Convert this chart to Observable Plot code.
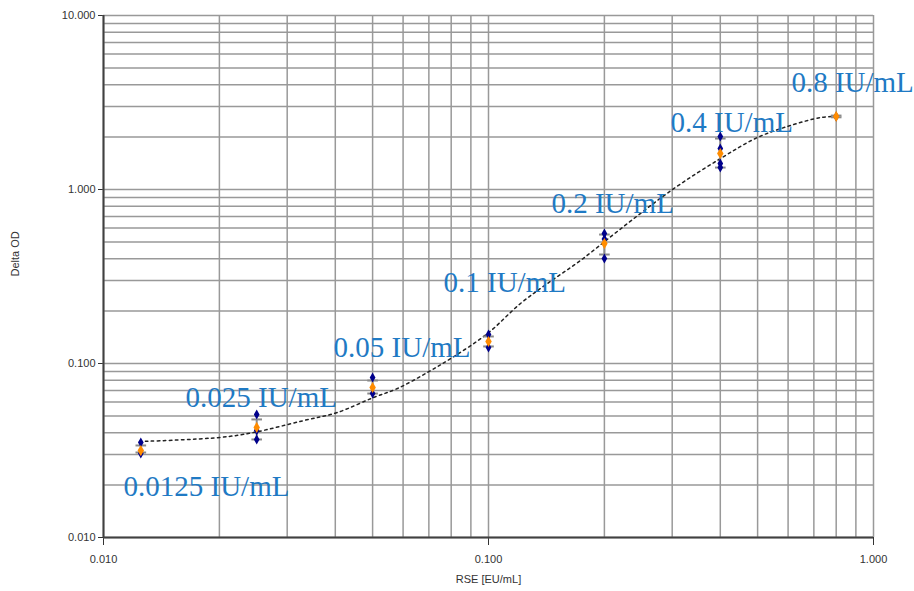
<!DOCTYPE html>
<html>
<head>
<meta charset="utf-8">
<script src="https://cdn.jsdelivr.net/npm/d3@7"></script>
<script src="https://cdn.jsdelivr.net/npm/@observablehq/plot@0.6"></script>
<style>
  html, body { margin: 0; padding: 0; background: #fff; }
  #chart { width: 914px; height: 591px; }
</style>
</head>
<body>
<div id="chart"></div>
<script>
// Concentrations (RSE, EU/mL)
const conc = [0.0125, 0.025, 0.05, 0.1, 0.2, 0.4, 0.8];
// Mean Delta OD (orange)
const meanOD = [0.0316, 0.0429, 0.0728, 0.1338, 0.489, 1.61, 2.63];
// Error bar limits (gray)
const errLow  = [0.0308, 0.0366, 0.0672, 0.1253, 0.423, 1.337, 2.60];
const errHigh = [0.0338, 0.0477, 0.0798, 0.143, 0.551, 1.963, 2.66];
// Replicates (blue)
const repConc = [0.0125, 0.0125, 0.025, 0.025, 0.025, 0.05, 0.05, 0.1, 0.1, 0.2, 0.2, 0.2, 0.4, 0.4, 0.4, 0.4, 0.8];
const repOD   = [0.0352, 0.0304, 0.0509, 0.0412, 0.0366, 0.0831, 0.0672, 0.1468, 0.1236, 0.559, 0.52, 0.401, 2.017, 1.72, 1.41, 1.337, 2.63];
// Fitted curve (dotted)
const fitX = [0.0124, 0.0201, 0.0245, 0.0331, 0.0405, 0.0503, 0.058, 0.0694, 0.0806, 0.0994, 0.1211, 0.1423, 0.1734, 0.2176, 0.3006, 0.4006, 0.4996, 0.6086, 0.7284, 0.787];
const fitY = [0.0356, 0.0376, 0.0401, 0.047, 0.0523, 0.0638, 0.0718, 0.0888, 0.1083, 0.1487, 0.2213, 0.2883, 0.391, 0.581, 1.0, 1.507, 1.99, 2.332, 2.593, 2.63];
// Annotation labels
const labelText = ["0.0125 IU/mL", "0.025 IU/mL", "0.05 IU/mL", "0.1 IU/mL", "0.2 IU/mL", "0.4 IU/mL", "0.8 IU/mL"];
const labelX = [0.01127, 0.01633, 0.0396, 0.0764, 0.1457, 0.297, 0.612];
const labelY = [0.01964, 0.0638, 0.1236, 0.292, 0.831, 2.43, 4.12];
// Axis ticks
const xTicks = [0.01, 0.1, 1];
const yTicks = [0.01, 0.1, 1, 10];
const xTitle = "RSE [EU/mL]";
const yTitle = "Delta OD";

const xGrid = d3.scaleLog().domain([0.01, 1]).ticks();
const yGrid = d3.scaleLog().domain([0.01, 10]).ticks();

const means = conc.map((c, i) => ({x: c, y: meanOD[i], lo: errLow[i], hi: errHigh[i]}));
const reps = repConc.map((c, i) => ({x: c, y: repOD[i]}));
const fit = fitX.map((x, i) => ({x, y: fitY[i]}));
const labels = labelText.map((t, i) => ({t, x: labelX[i], y: labelY[i]}));

const capSymbol = {
  draw(ctx, size) {
    const w = Math.sqrt(size) / 2;
    ctx.moveTo(-w, 0);
    ctx.lineTo(w, 0);
  }
};

const fmt = d3.format(".3f");

const chart = Plot.plot({
  width: 914,
  height: 591,
  marginLeft: 103,
  marginRight: 41,
  marginTop: 15,
  marginBottom: 54,
  style: {fontFamily: "'Liberation Sans', Arial, sans-serif", fontSize: "11px", color: "#333", background: "#fff"},
  x: {type: "log", domain: [0.01, 1], ticks: xTicks, tickFormat: fmt, tickSize: 8, tickPadding: 10, label: null},
  y: {type: "log", domain: [0.01, 10], ticks: yTicks, tickFormat: fmt, tickSize: 5, tickPadding: 3, label: null},
  marks: [
    Plot.ruleX(xGrid, {stroke: "#999", strokeWidth: 1.5}),
    Plot.ruleY(yGrid, {stroke: "#999", strokeWidth: 1.5}),
    Plot.ruleX([0.01], {stroke: "#404040", strokeWidth: 2}),
    Plot.ruleY([0.01], {stroke: "#404040", strokeWidth: 2}),
    Plot.line(fit, {x: "x", y: "y", stroke: "#222", strokeWidth: 1.5, strokeDasharray: "2.5,3.5", curve: "catmull-rom"}),
    Plot.ruleX(means, {x: "x", y1: "lo", y2: "hi", stroke: "#8a8a8a", strokeWidth: 2}),
    Plot.dot(means, {x: "x", y: "lo", symbol: capSymbol, r: 6, stroke: "#8a8a8a", strokeWidth: 2, fill: "none"}),
    Plot.dot(means, {x: "x", y: "hi", symbol: capSymbol, r: 6, stroke: "#8a8a8a", strokeWidth: 2, fill: "none"}),
    Plot.dot(reps, {x: "x", y: "y", symbol: "diamond", r: 3, fill: "#00008b", stroke: "none"}),
    Plot.dot(means, {x: "x", y: "y", symbol: "diamond", r: 3.4, fill: "#ff8c00", stroke: "none"}),
    Plot.text(labels, {x: "x", y: "y", text: "t", textAnchor: "start", lineAnchor: "middle", fill: "#1f7ac4", fontSize: 29, fontFamily: "'Liberation Serif', 'Times New Roman', serif"}),
    Plot.text([xTitle], {frameAnchor: "bottom", dy: 45, fill: "#333", fontSize: 11}),
    Plot.text([yTitle], {frameAnchor: "left", dx: -88, rotate: -90, fill: "#333", fontSize: 11})
  ]
});

document.getElementById("chart").appendChild(chart);
</script>
</body>
</html>
